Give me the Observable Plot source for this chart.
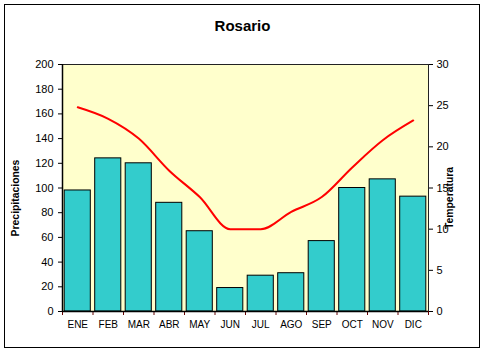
<!DOCTYPE html>
<html>
<head>
<meta charset="utf-8">
<script src="https://cdn.jsdelivr.net/npm/d3@7"></script>
<script src="https://cdn.jsdelivr.net/npm/@observablehq/plot@0.6"></script>
<style>
  html, body { margin: 0; padding: 0; background: #fff; }
  #wrap { position: relative; width: 485px; height: 352px; font-family: "Liberation Sans", Arial, sans-serif; }
  #border { position: absolute; left: 4px; top: 4px; width: 474px; height: 342px; border: 1px solid #000; box-sizing: content-box; pointer-events: none; }
  .lbl { position: absolute; font-weight: bold; color: #000; white-space: nowrap; }
  #title { left: 0; width: 485px; top: 17px; text-align: center; font-size: 15px; }
  .ylab { font-size: 10.4px; transform: translate(-50%, -50%) rotate(-90deg); }
</style>
</head>
<body>
<div id="wrap">
  <div id="chart"></div>
  <div id="border"></div>
  <div class="lbl" id="title">Rosario</div>
  <div class="lbl ylab" style="left:15px; top:198px;">Precipitaciones</div>
  <div class="lbl ylab" style="left:449px; top:198px;">Temperatura</div>
</div>
<script>
const months = ["ENE","FEB","MAR","ABR","MAY","JUN","JUL","AGO","SEP","OCT","NOV","DIC"];
const precip = [98, 124, 120, 88, 65, 19, 29, 31, 57, 100, 107, 93];
const temp = [24.8, 23.4, 21.0, 17.1, 13.9, 10.0, 10.0, 12.1, 13.9, 17.5, 20.8, 23.2];
const precipTicks = [0, 20, 40, 60, 80, 100, 120, 140, 160, 180, 200];
const tempTicks = [0, 5, 10, 15, 20, 25, 30];

const k = 200 / 30; // temperature → precipitation scale
const data = months.map((m, i) => ({m, i, p: precip[i], t: temp[i]}));

const chart = Plot.plot({
  width: 485,
  height: 352,
  marginLeft: 62,
  marginRight: 57,
  marginTop: 64,
  marginBottom: 41,
  style: {fontFamily: "'Liberation Sans', Arial, sans-serif", fontSize: "11px", background: "transparent", color: "#000"},
  x: {type: "linear", domain: [0, 12], axis: null},
  y: {domain: [0, 200], axis: null},
  marks: [
    Plot.rect([0], {x1: 0, x2: 12, y1: 0, y2: 200, fill: "#FFFFCC"}),
    Plot.rect(data, {x1: "i", x2: d => d.i + 1, y1: 0, y2: "p", fill: "#33CCCC", stroke: "#000", strokeWidth: 1, insetLeft: 2.2, insetRight: 2.2}),
    Plot.line(data, {x: d => d.i + 0.5, y: d => d.t * k, stroke: "#FF0000", strokeWidth: 2, curve: "monotone-x"}),
    Plot.frame({stroke: "#222", strokeWidth: 1}),
    Plot.axisY(precipTicks, {anchor: "left", tickSize: 4, tickPadding: 5, fontSize: 11, label: null, stroke: "#000"}),
    Plot.axisY(tempTicks.map(t => t * k), {anchor: "right", tickSize: 4, tickPadding: 4, fontSize: 11, label: null, tickFormat: d => String(Math.round(d / k)), stroke: "#000"}),
    Plot.axisX(d3.range(0, 13), {anchor: "bottom", tickSize: 4, tickFormat: () => "", label: null, stroke: "#600"}),
    Plot.axisX(d3.range(12).map(i => i + 0.5), {anchor: "bottom", tickSize: 0, tickPadding: 9, fontSize: 10, label: null, tickFormat: d => months[Math.floor(d)]}),
    Plot.ruleX([0], {stroke: "#000", strokeWidth: 1.5}),
    Plot.ruleY([0], {stroke: "#000", strokeWidth: 1.5})
  ]
});
document.getElementById("chart").appendChild(chart);
</script>
</body>
</html>
